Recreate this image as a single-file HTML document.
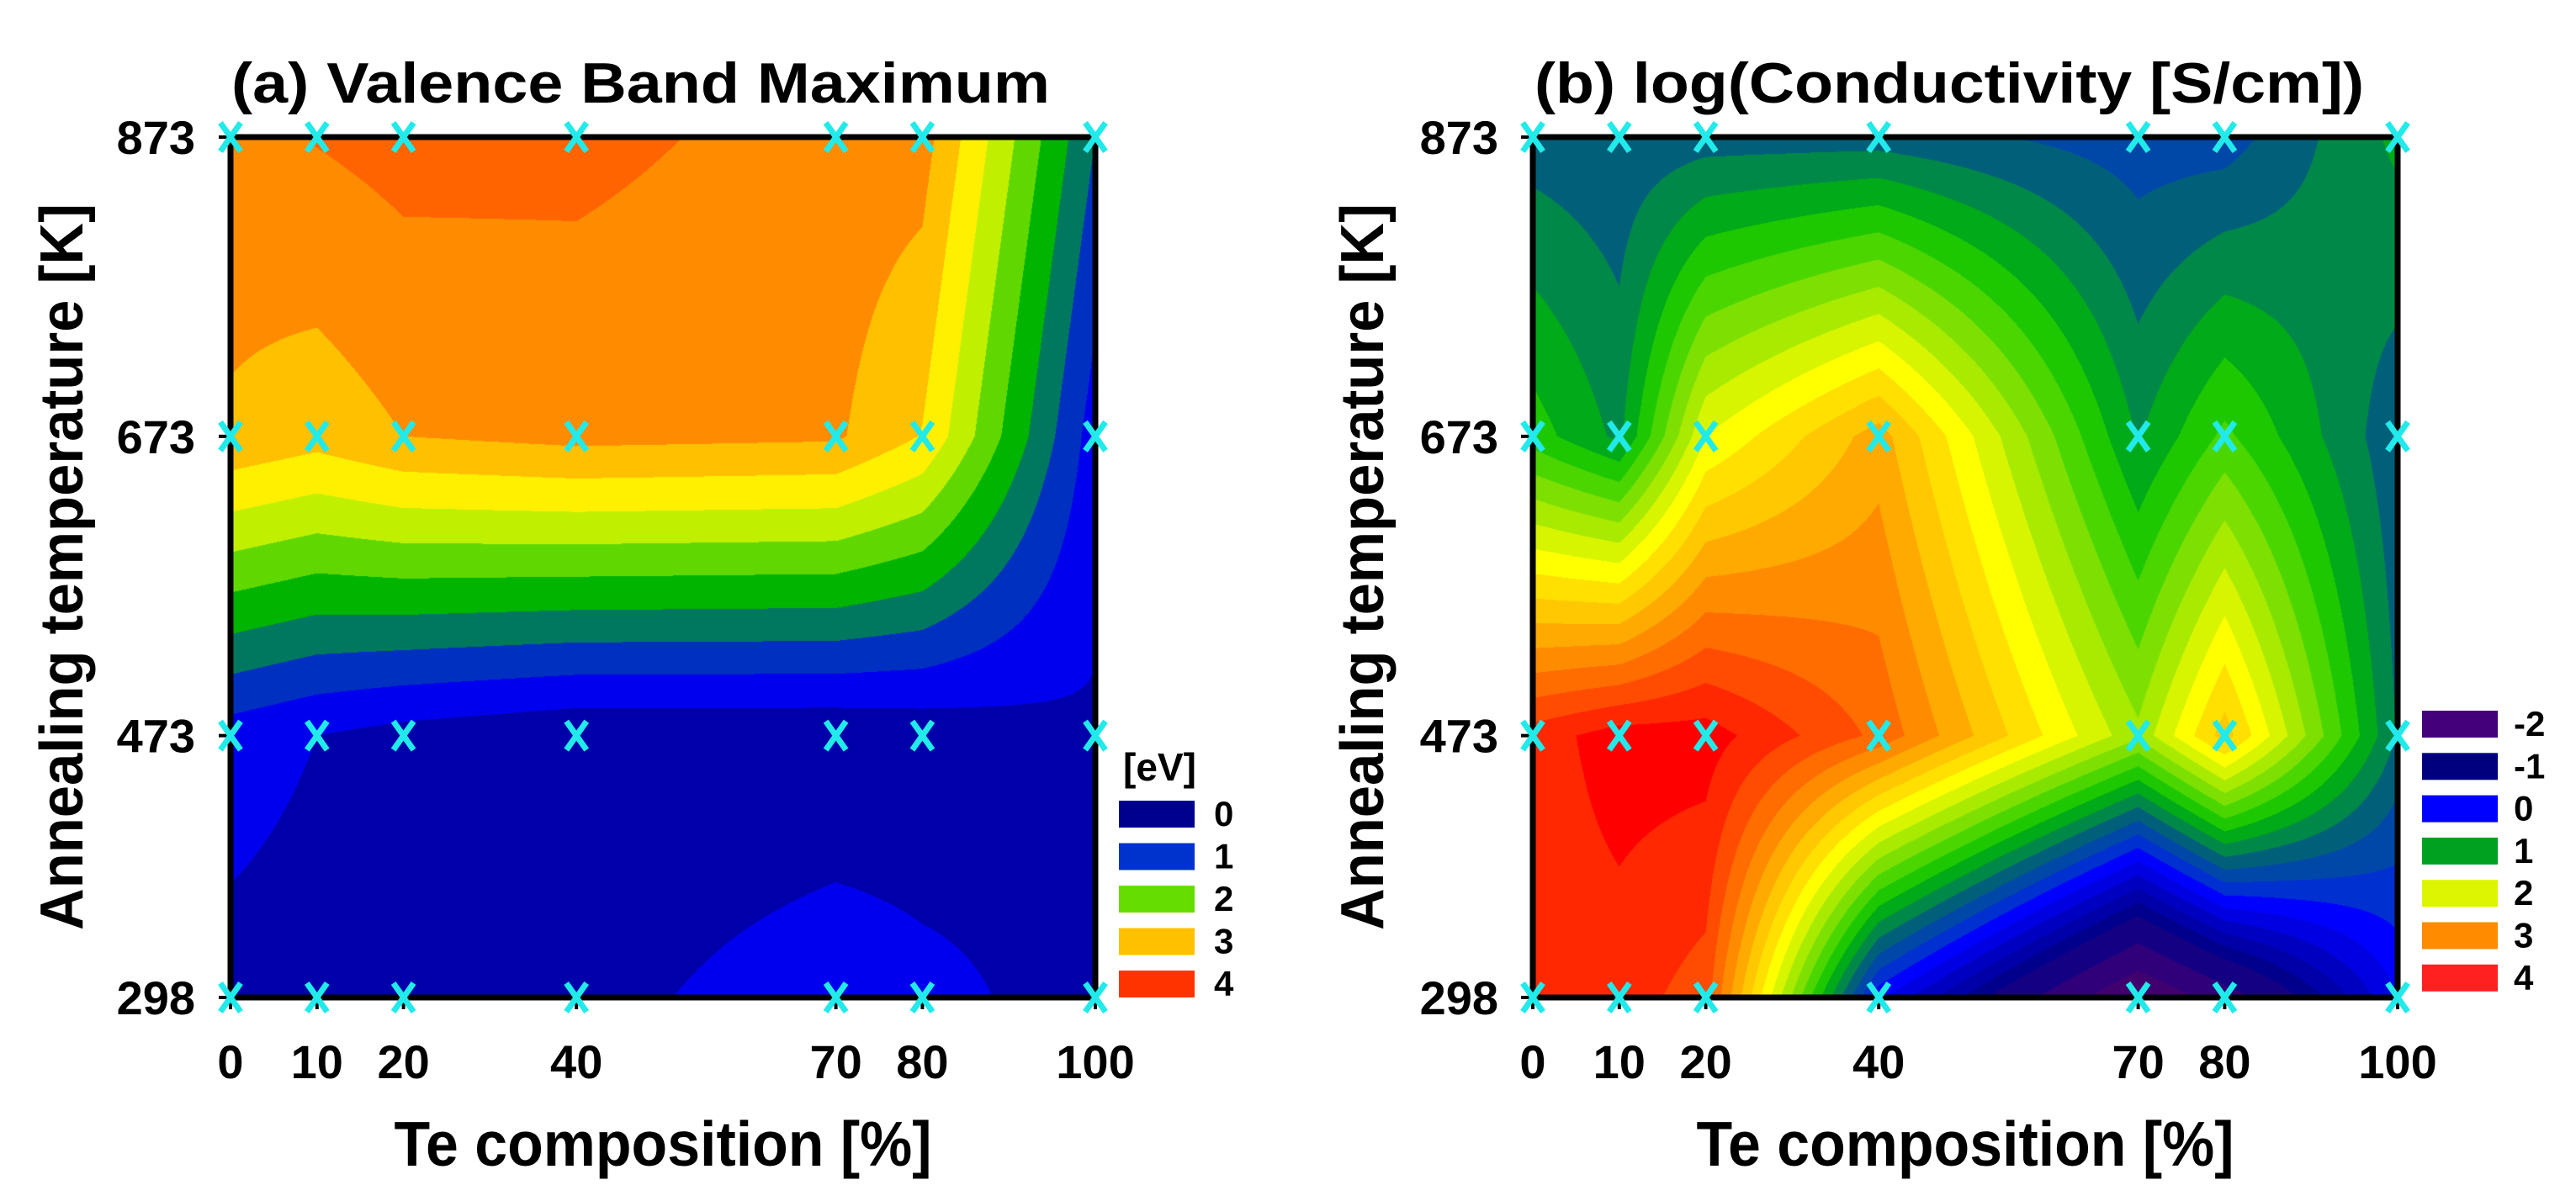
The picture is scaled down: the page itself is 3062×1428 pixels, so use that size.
<!DOCTYPE html>
<html><head><meta charset="utf-8">
<style>
html,body{margin:0;padding:0;background:#fff;}
#wrap{position:relative;width:3062px;height:1428px;overflow:hidden;background:#fff;}
canvas{position:absolute;}
svg{position:absolute;left:0;top:0;}
text{font-family:"Liberation Sans",Arial,sans-serif;font-weight:bold;fill:#000;}
</style></head>
<body>
<div id="wrap">
<canvas id="cA" width="1028" height="1023" style="left:274px;top:163px;width:1028px;height:1023px"></canvas>
<canvas id="cB" width="1028" height="1023" style="left:1822px;top:163px;width:1028px;height:1023px"></canvas>
<svg id="ov" width="3062" height="1428" viewBox="0 0 3062 1428">
  <text x="275" y="122" font-size="68" textLength="973" lengthAdjust="spacingAndGlyphs">(a) Valence Band Maximum</text>
  <text x="1824" y="122" font-size="68" textLength="986" lengthAdjust="spacingAndGlyphs">(b) log(Conductivity [S/cm])</text>
  <text x="788" y="1386" font-size="75" text-anchor="middle" textLength="639" lengthAdjust="spacingAndGlyphs">Te composition [%]</text>
  <text x="2336" y="1386" font-size="75" text-anchor="middle" textLength="639" lengthAdjust="spacingAndGlyphs">Te composition [%]</text>
  <text transform="translate(98,674) rotate(-90)" font-size="72" text-anchor="middle" textLength="864" lengthAdjust="spacingAndGlyphs">Annealing temperature [K]</text>
  <text transform="translate(1644,674) rotate(-90)" font-size="72" text-anchor="middle" textLength="864" lengthAdjust="spacingAndGlyphs">Annealing temperature [K]</text>
  <text x="1335" y="928" font-size="46">[eV]</text>
  <g id="gA"></g>
  <g id="gB"></g>
  <g id="legA"></g>
  <g id="legB"></g>
</svg>
</div>
<script>
// ---- data ----
const xVals = [0, 10, 20, 40, 70, 80, 100];
const tVals = [298, 473, 673, 873];
const xTickLabels = ['0', '10', '20', '40', '70', '80', '100'];
const tTickLabels = ['298', '473', '673', '873'];
// panel a: VBM values, rows follow tVals
const vbm298 = [0.2, 0.15, 0.15, 0.2, 0.55, 0.42, 0.2];
const vbm473 = [0.5, 0.33, 0.2, 0.05, 0.05, 0.1, 0.28];
const vbm673 = [2.95, 2.8, 3.0, 3.1, 3.05, 2.65, 0.5];
const vbm873 = [3.2, 3.35, 3.45, 3.42, 3.2, 3.15, 1.0];
// panel b: log conductivity
const cond298 = [3.7, 3.7, 3.5, 0.05, -2.0, -1.4, 0.0];
const cond473 = [3.7, 3.9, 3.9, 3.35, 1.85, 2.7, 0.78];
const cond673 = [1.3, 0.95, 2.2, 2.9, 0.98, 1.45, 0.65];
const cond873 = [0.7, 0.65, 0.7, 0.7, 0.5, 0.5, 1.05];
// contour levels
const aLevels = [0.33, 0.67, 1.0, 1.33, 1.67, 2.0, 2.33, 2.67, 3.0, 3.33, 3.67];
const aColors = ['#0000aa','#0000ee','#0030c0','#007860','#00b400','#60d800','#c0f000','#fff000','#ffc000','#ff8c00','#ff6400','#ff3300'];
const bLevels = [-1.6,-1.2,-0.8,-0.6,-0.4,-0.2,0,0.2,0.4,0.6,0.8,1.0,1.2,1.4,1.6,1.8,2.0,2.2,2.4,2.6,2.8,3.0,3.2,3.4,3.6,3.8];
const bColors = ['#40006e','#30007a','#140082','#00008c','#0000a8','#0000c0','#0000e0','#0000ff','#0030d0','#0048a8','#00607a','#008848','#00aa18','#1ec800','#4cd600','#7ee000','#a8ea00','#d8f500','#ffff00','#ffe000','#ffc800','#ffaa00','#ff8c00','#ff6c00','#ff4c00','#ff2800','#ff0000'];
const legALabels = ['0','1','2','3','4'];
const legAColors = ['#00008e','#0033cc','#66dd00','#ffc000','#ff3300'];
const legBLabels = ['-2','-1','0','1','2','3','4'];
const legBColors = ['#44007a','#00007e','#0000ff','#00a020','#ddf500','#ff8c00','#ff2020'];

const gridA = [vbm298, vbm473, vbm673, vbm873];
const gridB = [cond298, cond473, cond673, cond873];
const PW = 1028, PH = 1023, PTOP = 163;
function xScale(x0, v){ return x0 + (v - xVals[0]) / (xVals[xVals.length-1] - xVals[0]) * PW; }
function yScale(t){ return PTOP + PH - (t - tVals[0]) / (tVals[tVals.length-1] - tVals[0]) * PH; }
function seg(arr, v){ let i=0; while(i < arr.length-2 && v > arr[i+1]) i++; return i; }
function interp(grid, x, t){
  const i = seg(xVals, x), j = seg(tVals, t);
  const fx = (x - xVals[i])/(xVals[i+1]-xVals[i]);
  const ft = (t - tVals[j])/(tVals[j+1]-tVals[j]);
  const a = grid[j][i], b = grid[j][i+1], c = grid[j+1][i], d = grid[j+1][i+1];
  return (a*(1-fx)+b*fx)*(1-ft) + (c*(1-fx)+d*fx)*ft;
}
function hex(h){ return [parseInt(h.slice(1,3),16),parseInt(h.slice(3,5),16),parseInt(h.slice(5,7),16)]; }
function band(levels, v){ let k=0; while(k<levels.length && v>=levels[k]) k++; return k; }
function paint(id, grid, levels, colors){
  const cv = document.getElementById(id), ctx = cv.getContext('2d');
  const img = ctx.createImageData(PW, PH), rgb = colors.map(hex);
  const x0 = xVals[0], x1 = xVals[xVals.length-1], t0 = tVals[0], t1 = tVals[tVals.length-1];
  for (let py=0; py<PH; py++){
    const t = t1 - (py+0.5)/PH*(t1-t0);
    for (let px=0; px<PW; px++){
      const x = x0 + (px+0.5)/PW*(x1-x0);
      const c = rgb[band(levels, interp(grid, x, t))];
      const o = (py*PW+px)*4;
      img.data[o]=c[0]; img.data[o+1]=c[1]; img.data[o+2]=c[2]; img.data[o+3]=255;
    }
  }
  ctx.putImageData(img, 0, 0);
}
paint('cA', gridA, aLevels, aColors);
paint('cB', gridB, bLevels, bColors);

const NS = 'http://www.w3.org/2000/svg';
function mk(tag, attrs, parent){
  const e = document.createElementNS(NS, tag);
  for (const k in attrs) e.setAttribute(k, attrs[k]);
  parent.appendChild(e); return e;
}
function axes(gid, x0, labelEnd, suffix){
  const g = document.getElementById(gid);
  const frame = mk('rect', {x:x0, y:PTOP, width:PW, height:PH, fill:'none', stroke:'#000', 'stroke-width':7}, g);
  
  
  tVals.forEach((t, k) => {
    const y = yScale(t);
    const tk = mk('line', {x1:x0-14, x2:x0, y1:y, y2:y, stroke:'#000', 'stroke-width':4}, g);
    
    
    const tx = mk('text', {x:labelEnd, y:y+20, 'font-size':56, 'text-anchor':'end'}, g);
    tx.textContent = tTickLabels[k];
    
    
  });
  xVals.forEach((v, k) => {
    const x = xScale(x0, v);
    const tk = mk('line', {x1:x, x2:x, y1:PTOP+PH, y2:PTOP+PH+14, stroke:'#000', 'stroke-width':4}, g);
    
    
    const tx = mk('text', {x:x, y:1282, 'font-size':56, 'text-anchor':'middle'}, g);
    tx.textContent = xTickLabels[k];
    
    
  });
  tVals.forEach(t => xVals.forEach(v => {
    const cx = xScale(x0, v), cy = yScale(t);
    const p = mk('path', {d:`M${cx-12} ${cy-17} L${cx+12} ${cy+17} M${cx+12} ${cy-17} L${cx-12} ${cy+17}`, stroke:'#22eaea', 'stroke-width':7, fill:'none'}, g);
    
    
  }));
}
axes('gA', 274, 232, 'a');
axes('gB', 1822, 1781, 'b');

function legend(gid, labels, colors, x, y0, pitch, lx){
  const g = document.getElementById(gid);
  labels.forEach((lab, k) => {
    const y = y0 + k*pitch;
    const r = mk('rect', {x:x, y:y, width:90, height:32, fill:colors[k]}, g);
    
    
    const t = mk('text', {x:lx, y:y+30, 'font-size':42}, g);
    t.textContent = lab;
    
    
  });
}
legend('legA', legALabels, legAColors, 1330, 952, 50.5, 1443);
legend('legB', legBLabels, legBColors, 2879, 845, 50.3, 2988);
</script>
</body></html>
